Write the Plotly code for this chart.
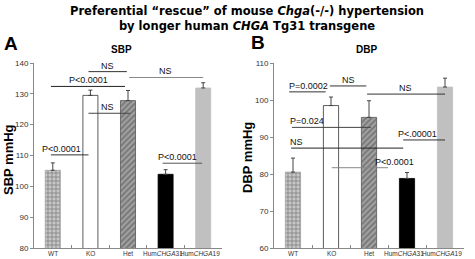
import plotly.graph_objects as go

categories = ["WT", "KO", "Het", "HumCHGA31", "HumCHGA19"]
tick_labels = ["WT", "KO", "Het", "Hum<i>CHGA</i>31", "Hum<i>CHGA</i>19"]
sbp_values = [105.2, 129.5, 127.8, 103.9, 131.9]
sbp_errors = [2.4, 1.7, 3.3, 1.5, 1.7]
dbp_values = [80.5, 98.5, 95.3, 78.8, 103.5]
dbp_errors = [3.8, 2.3, 4.5, 1.6, 2.4]

# comparisons: (x0, x1, y, label, text_x, line colour)
sbp_comparisons = [
    (-0.05, 1.92, 132.4, "P<0.0001", 0.95, "#222222"),
    (0.95, 1.97, 137.2, "NS", 1.45, "#333333"),
    (2.03, 4.0, 135.3, "NS", 3.0, "#888888"),
    (0.95, 2.05, 123.7, "NS", 1.45, "#444444"),
    (-0.05, 0.95, 110.2, "P<0.0001", 0.22, "#333333"),
    (2.92, 3.97, 107.5, "P<0.0001", 3.32, "#555555"),
]
dbp_comparisons = [
    (-0.10, 0.86, 102.2, "P=0.0002", 0.4, "#333333"),
    (0.97, 1.93, 103.8, "NS", 1.45, "#333333"),
    (1.95, 4.0, 101.6, "NS", 2.95, "#333333"),
    (-0.03, 2.05, 92.6, "P=0.024", 0.37, "#444444"),
    (-0.05, 2.9, 87.0, "NS", 0.1, "#222222"),
    (2.9, 4.0, 89.2, "P<.00001", 3.28, "#333333"),
    (1.02, 2.5, 81.7, "P<0.0001", 2.68, "#888888"),
]

bar_colors = ["#c8c8c8", "#ffffff", "#a0a0a0", "#000000", "#c0c0c0"]
pattern_shapes = ["+", "", "/", "", ""]
pattern_fg = ["#9a9a9a", "#ffffff", "#7a7a7a", "#000000", "#c0c0c0"]
line_colors = ["#a0a0a0", "#333333", "#555555", "#000000", "#c0c0c0"]

fig = go.Figure()
for ax, vals, errs in [("", sbp_values, sbp_errors), ("2", dbp_values, dbp_errors)]:
    fig.add_trace(go.Bar(
        x=categories, y=vals, xaxis="x" + ax, yaxis="y" + ax, width=0.4,
        marker=dict(color=bar_colors, line=dict(color=line_colors, width=0.8),
                    pattern=dict(shape=pattern_shapes, fgcolor=pattern_fg,
                                 bgcolor=bar_colors, size=4, solidity=0.4)),
        error_y=dict(type="data", array=errs, arrayminus=[0] * 5, symmetric=False,
                     color="#444444", thickness=1, width=2),
        showlegend=False, hoverinfo="skip",
    ))

W, H = 475, 259
def px(x): return x / W
def py(y): return 1 - y / H

shapes = []
annotations = []
for ax, comps in [("", sbp_comparisons), ("2", dbp_comparisons)]:
    for x0, x1, y, label, tx, col in comps:
        shapes.append(dict(type="line", xref="x" + ax, yref="y" + ax, x0=x0, x1=x1,
                           y0=y, y1=y, line=dict(color=col, width=1)))
        annotations.append(dict(xref="x" + ax, yref="y" + ax, x=tx, y=y, text=label,
                                showarrow=False, yanchor="bottom", yshift=-1,
                                font=dict(size=9, color="#111111",
                                          family="Liberation Sans, Arial")))
    # category labels under the axis
    for i, lab in enumerate(tick_labels):
        annotations.append(dict(xref="x" + ax, yref="paper", x=i, y=py(249),
                                yanchor="top", showarrow=False, text=lab,
                                xshift=-3 if len(lab) > 5 else 0, borderpad=0,
                                font=dict(size=6.5, family="Liberation Sans", color="#333333")))

annotations += [
    dict(xref="paper", yref="paper", x=px(247), y=py(2), yanchor="top", showarrow=False,
         text="<b>Preferential “rescue” of mouse <i>Chga</i>(-/-) hypertension<br>by longer human <i>CHGA</i> Tg31 transgene</b>",
         font=dict(size=11.5, family="DejaVu Sans", color="#000000")),
    dict(xref="paper", yref="paper", x=px(2), y=py(43), xanchor="left", yanchor="middle",
         showarrow=False, text="<b>A</b>", font=dict(size=19, family="Liberation Sans", color="#000")),
    dict(xref="paper", yref="paper", x=px(249), y=py(42), xanchor="left", yanchor="middle",
         showarrow=False, text="<b>B</b>", font=dict(size=19, family="Liberation Sans", color="#000")),
    dict(xref="paper", yref="paper", x=px(122), y=py(49), xanchor="center", yanchor="middle",
         showarrow=False, text="<b>SBP</b>", font=dict(size=10, family="Liberation Sans", color="#000")),
    dict(xref="paper", yref="paper", x=px(366), y=py(49), xanchor="center", yanchor="middle",
         showarrow=False, text="<b>DBP</b>", font=dict(size=10, family="Liberation Sans", color="#000")),
    dict(xref="paper", yref="paper", x=px(8), y=py(160), xanchor="center", yanchor="middle",
         showarrow=False, textangle=-90, text="<b>SBP mmHg</b>",
         font=dict(size=13, family="Liberation Sans", color="#000")),
    dict(xref="paper", yref="paper", x=px(247), y=py(158), xanchor="center", yanchor="middle",
         showarrow=False, textangle=-90, text="<b>DBP mmHg</b>",
         font=dict(size=13, family="Liberation Sans", color="#000")),
]

axis_common = dict(showline=True, linecolor="#888888", linewidth=1, showgrid=False,
                   zeroline=False, automargin=False)
yfont = dict(size=8, family="Liberation Sans", color="#333333")
xcommon = dict(type="category", tickvals=categories, ticktext=tick_labels,
               tickson="boundaries", showticklabels=False, ticks="inside", ticklen=3,
               tickcolor="#888888", range=[-0.5, 4.5])
fig.update_layout(
    width=W, height=H, margin=dict(l=0, r=0, t=0, b=0, autoexpand=False),
    paper_bgcolor="white", plot_bgcolor="white", bargap=0, hovermode=False,
    shapes=shapes, annotations=annotations,
    xaxis=dict(domain=[px(34), px(222)], anchor="y", **xcommon, **axis_common),
    yaxis=dict(domain=[py(248), py(63)], anchor="x", range=[80, 140], dtick=10,
               ticks="outside", ticklen=3, tickcolor="#888888", tickfont=yfont,
               **axis_common),
    xaxis2=dict(domain=[px(274), px(464)], anchor="y2", **xcommon, **axis_common),
    yaxis2=dict(domain=[py(248), py(63)], anchor="x2", range=[60, 110], dtick=10,
                ticks="outside", ticklen=3, tickcolor="#888888", tickfont=yfont,
                **axis_common),
)
fig.write_html("out.html", config={"displayModeBar": False, "staticPlot": True},
               post_script="document.body.style.margin='0';document.body.style.padding='0';document.body.style.overflow='hidden';")
